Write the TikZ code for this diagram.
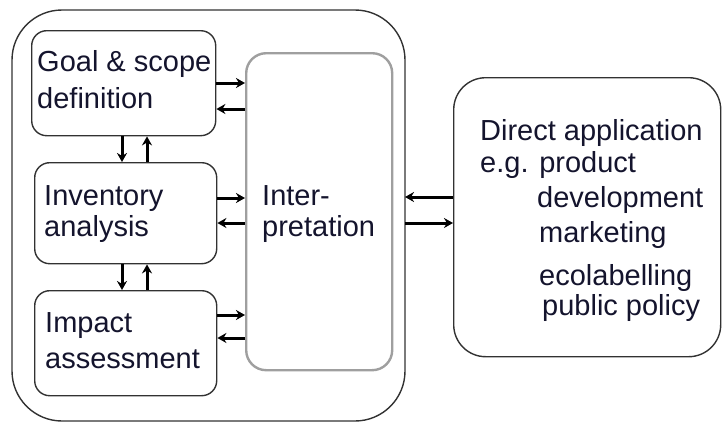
\documentclass[tikz,border=0pt]{standalone}
\usepackage{fontspec}
\setmainfont{Liberation Sans}
\usetikzlibrary{arrows.meta}
\definecolor{txt}{RGB}{20,20,45}
\definecolor{boxline}{RGB}{50,50,50}
\tikzset{
  lbl/.style={anchor=base west, inner sep=0pt, text=txt, font=\fontsize{29}{35}\selectfont},
  stepbox/.style={draw=boxline, line width=1.4pt, rounded corners=15pt},
  arr/.style={line width=3pt, -{Stealth[length=9pt,width=10pt]}},
}
\begin{document}
\begin{tikzpicture}[x=1pt,y=-1pt]
\useasboundingbox (0,0) rectangle (722,423);
% outer box
\draw[boxline, line width=1.4pt, rounded corners=50pt] (12,10) rectangle (405,421);
% left boxes
\node[stepbox, minimum width=184pt, minimum height=105pt, anchor=north west] (goal) at (31,30) {};
\node[stepbox, minimum width=182pt, minimum height=101pt, anchor=north west] (inv) at (34,162) {};
\node[stepbox, minimum width=182pt, minimum height=105pt, anchor=north west] (imp) at (34,290) {};
% interpretation
\node[draw=gray!75, line width=2.4pt, rounded corners=20pt, minimum width=146pt, minimum height=317pt, anchor=north west] (interp) at (245,52) {};
% right box
\node[draw=boxline, line width=1.4pt, rounded corners=32pt, minimum width=267pt, minimum height=279pt, anchor=north west] (app) at (453,77) {};
% texts
\node[lbl] (g1) at (37,71) {Goal \& scope};
\node[lbl] (g2) at (37,108) {definition};
\node[lbl] (i1) at (44,205) {Inventory};
\node[lbl] (i2) at (44,236) {analysis};
\node[lbl] (m1) at (45,332) {Impact};
\node[lbl] (m2) at (45,368) {assessment};
\node[lbl] (t1) at (262,205) {Inter-};
\node[lbl] (t2) at (262,236) {pretation};
\node[lbl] (a1) at (480,140) {Direct application};
\node[lbl] (a2) at (480,172) {e.g. product};
\node[lbl] (a3) at (537,207) {development};
\node[lbl] (a4) at (539,242) {marketing};
\node[lbl] (a5) at (539,285) {ecolabelling};
\node[lbl] (a6) at (542,315) {public policy};
% horizontal arrows
\draw[arr] (goal.east |- 0,83) -- (interp.west |- 0,83);
\draw[arr] (interp.west |- 0,109) -- (goal.east |- 0,109);
\draw[arr] (inv.east |- 0,198) -- (interp.west |- 0,198);
\draw[arr] (interp.west |- 0,223) -- (inv.east |- 0,223);
\draw[arr] (imp.east |- 0,315) -- (interp.west |- 0,315);
\draw[arr] (interp.west |- 0,338) -- (imp.east |- 0,338);
% vertical arrows
\draw[arr] (goal.south -| 122,0) -- (inv.north -| 122,0);
\draw[arr] (inv.north -| 147,0) -- (goal.south -| 147,0);
\draw[arr] (inv.south -| 122,0) -- (imp.north -| 122,0);
\draw[arr] (imp.north -| 147,0) -- (inv.south -| 147,0);
% arrows between outer and application
\coordinate (outerR) at (405,0);
\draw[arr] (app.west |- 0,197) -- (outerR |- 0,197);
\draw[arr] (outerR |- 0,223) -- (app.west |- 0,223);
\end{tikzpicture}
\end{document}
